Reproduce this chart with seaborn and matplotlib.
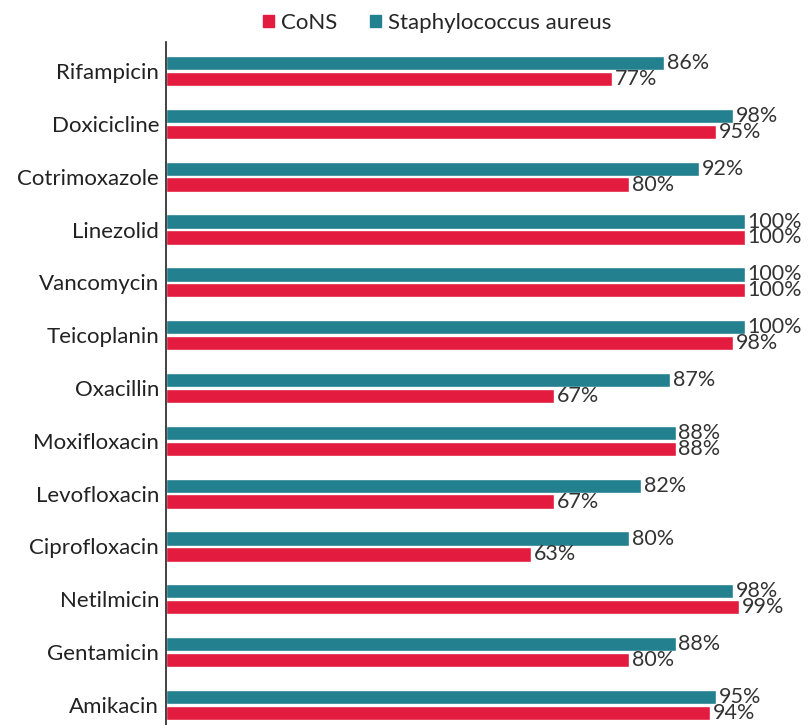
import pandas as pd
import matplotlib
matplotlib.use('Agg')
import matplotlib.pyplot as plt
import seaborn as sns
from matplotlib.patches import Patch

drugs = ['Rifampicin', 'Doxicicline', 'Cotrimoxazole', 'Linezolid', 'Vancomycin',
         'Teicoplanin', 'Oxacillin', 'Moxifloxacin', 'Levofloxacin', 'Ciprofloxacin',
         'Netilmicin', 'Gentamicin', 'Amikacin']
staph = [86, 98, 92, 100, 100, 100, 87, 88, 82, 80, 98, 88, 95]
cons = [77, 95, 80, 100, 100, 98, 67, 88, 67, 63, 99, 80, 94]

df = pd.concat([
    pd.DataFrame({'drug': drugs, 'value': staph, 'group': 'Staphylococcus aureus'}),
    pd.DataFrame({'drug': drugs, 'value': cons, 'group': 'CoNS'}),
])

sns.set_style('white')
plt.rcParams['font.family'] = ['Lato', 'DejaVu Sans']

fig = plt.figure(figsize=(8.11, 7.25), dpi=100)
ax = fig.add_axes([166 / 811, 0, (811 - 166) / 811, (725 - 42) / 725])

palette = {'Staphylococcus aureus': '#22808f', 'CoNS': '#e31b3f'}
sns.barplot(data=df, y='drug', x='value', hue='group', orient='h',
            hue_order=['Staphylococcus aureus', 'CoNS'], palette=palette,
            saturation=1, width=0.6, gap=0.1, ax=ax, legend=False)

for cont in ax.containers:
    ax.bar_label(cont, labels=[f'{v:.0f}%' for v in cont.datavalues],
                 padding=2, fontsize=15.5, color='#333333')

ax.set_xlim(0, 111.4)
ax.set_ylim(12.38, -0.55)
ax.set_xlabel('')
ax.set_ylabel('')
ax.set_xticks([])
ax.tick_params(axis='y', length=0, pad=5, labelsize=16, labelcolor='#222222')
for s in ['top', 'right', 'bottom']:
    ax.spines[s].set_visible(False)
ax.spines['left'].set_color('#222222')
ax.spines['left'].set_linewidth(1.2)

handles = [Patch(color=palette['CoNS'], label='CoNS'),
           Patch(color=palette['Staphylococcus aureus'], label='Staphylococcus aureus')]
fig.legend(handles=handles, loc='upper center', bbox_to_anchor=(0.539, 1.01),
           ncol=2, frameon=False, fontsize=16, handlelength=0.5, handleheight=0.5,
           handletextpad=0.3, columnspacing=1.5)

fig.savefig('out.png', dpi=100)
